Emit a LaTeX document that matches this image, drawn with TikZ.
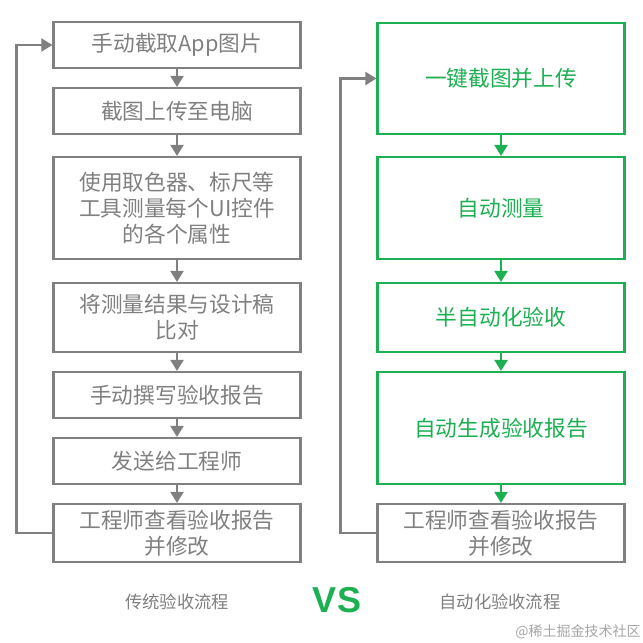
\documentclass[tikz,border=0pt]{standalone}
\usepackage{fontspec}
\newfontfamily\cjk{Noto Sans CJK SC}
\newfontfamily\vsfont{Liberation Sans}
\usetikzlibrary{arrows.meta}
\definecolor{flowgray}{HTML}{808080}
\definecolor{flowgreen}{HTML}{1DB052}

\begin{document}
\begin{tikzpicture}[x=1pt,y=-1pt]

    % Define some common styles
    \tikzset{
        stepgray/.style={draw=flowgray, line width=2.2pt, text=flowgray, minimum width=247pt, inner sep=0pt, align=center, font=\cjk\fontsize{21.7}{26}\selectfont},
        stepgreen/.style={stepgray, draw=flowgreen, text=flowgreen},
        flowarrow/.style={line width=2.2pt, -{Triangle[width=13pt,length=11pt]}},
        caption/.style={text=flowgray, font=\cjk\fontsize{17.3}{20}\selectfont}
    }

    % Page size and background
    \fill[white] (0,0) rectangle (643,643);
    \useasboundingbox (0,0) rectangle (643,643);

    % Traditional flow (left column)
    \node[stepgray, minimum height=46pt] (l1) at (177,45) {手动截取App图片};
    \node[stepgray, minimum height=46pt] (l2) at (177,111) {截图上传至电脑};
    \node[stepgray, minimum height=102pt] (l3) at (177,208) {使用取色器、标尺等\\工具测量每个UI控件\\的各个属性};
    \node[stepgray, minimum height=69pt] (l4) at (177,317.5) {将测量结果与设计稿\\比对};
    \node[stepgray, minimum height=46pt] (l5) at (177,395) {手动撰写验收报告};
    \node[stepgray, minimum height=46pt] (l6) at (177,461) {发送给工程师};
    \node[stepgray, minimum height=58pt] (l7) at (177,533) {工程师查看验收报告\\并修改};

    % Automated flow (right column)
    \node[stepgreen, minimum height=111pt] (r1) at (501,78.5) {一键截图并上传};
    \node[stepgreen, minimum height=102pt] (r2) at (501,208) {自动测量};
    \node[stepgreen, minimum height=69pt] (r3) at (501,317.5) {半自动化验收};
    \node[stepgreen, minimum height=112pt] (r4) at (501,428) {自动生成验收报告};
    \node[stepgray, minimum height=58pt] (r5) at (501,533) {工程师查看验收报告\\并修改};

    % Arrows between the steps
    \foreach \a/\b in {l1/l2, l2/l3, l3/l4, l4/l5, l5/l6, l6/l7}
        \draw[flowarrow, flowgray] (\a) -- (\b);
    \foreach \a/\b in {r1/r2, r2/r3, r3/r4, r4/r5}
        \draw[flowarrow, flowgreen] (\a) -- (\b);

    % Feedback loops
    \draw[flowarrow, flowgray] (l7.west) -- ++(-36,0) |- (l1.west);
    \draw[flowarrow, flowgray] (r5.west) -- ++(-36,0) |- (r1.west);

    % Captions
    \node[caption] (oldcap) at (177,602) {传统验收流程};
    \node[caption] (newcap) at (500,602) {自动化验收流程};
    \node[text=flowgreen, font=\vsfont\bfseries\fontsize{36}{36}\selectfont] (vs) at (337,600) {VS};
    \node[text=black!35, font=\cjk\fontsize{14}{16}\selectfont] (mark) at (578,632) {@稀土掘金技术社区};

\end{tikzpicture}
\end{document}
